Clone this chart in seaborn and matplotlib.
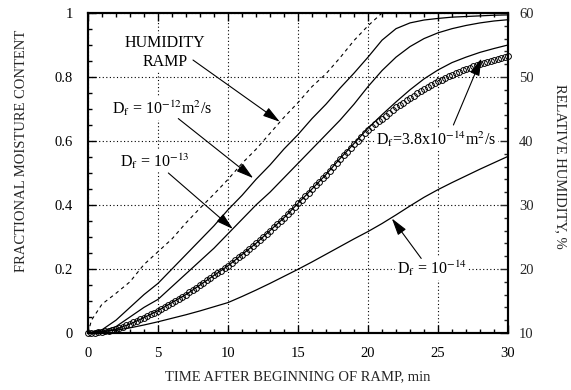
import numpy as np
import pandas as pd
import matplotlib
matplotlib.use("Agg")
import matplotlib.pyplot as plt
import seaborn as sns
from matplotlib.ticker import MultipleLocator, FixedLocator, FuncFormatter

# ---------------- data ----------------
time_min = list(range(0, 31))

# humidity ramp, relative humidity in %
ramp_time = [0, 0.25, 1, 2, 3, 4, 5, 6, 7, 8, 9, 10, 11, 12, 13, 14, 15, 16, 17, 18, 19, 20, 21]
ramp_rh = [10, 12, 14.5, 16.2, 18, 20.7, 22.7, 24.7, 27.2, 29.5, 31.7, 34, 36.5, 38.7,
           41.2, 43.7, 46, 48.5, 50.5, 53, 55.7, 58, 60]

# fractional moisture content, model curves
df_1e12 = [0, 0.01, 0.04, 0.08, 0.12, 0.155, 0.20, 0.245, 0.29, 0.335, 0.385, 0.43, 0.48,
           0.525, 0.575, 0.62, 0.67, 0.715, 0.765, 0.812, 0.862, 0.915, 0.951, 0.969, 0.978,
           0.983, 0.987, 0.989, 0.991, 0.993, 0.994]
df_1e13 = [0, 0.005, 0.02, 0.05, 0.08, 0.105, 0.145, 0.185, 0.225, 0.265, 0.31, 0.355, 0.40,
           0.44, 0.485, 0.53, 0.575, 0.62, 0.665, 0.715, 0.77, 0.82, 0.862, 0.895, 0.92,
           0.938, 0.951, 0.961, 0.969, 0.975, 0.979]
df_38e14 = [0, 0.003, 0.012, 0.028, 0.048, 0.07, 0.095, 0.12, 0.15, 0.18, 0.21, 0.245, 0.28,
            0.32, 0.36, 0.405, 0.45, 0.495, 0.545, 0.592, 0.64, 0.682, 0.722, 0.76, 0.794,
            0.822, 0.845, 0.862, 0.877, 0.889, 0.90]
df_1e14 = [0, 0.004, 0.009, 0.016, 0.025, 0.035, 0.046, 0.057, 0.069, 0.082, 0.095, 0.114,
           0.134, 0.155, 0.177, 0.199, 0.222, 0.246, 0.27, 0.294, 0.317, 0.342, 0.369, 0.397,
           0.424, 0.448, 0.47, 0.491, 0.512, 0.532, 0.552]

# measured data (circles), every 0.25 min
circle_time = [0.25 * i for i in range(121)]
circle_val = [0.000, 0.000, 0.001, 0.002, 0.003, 0.005, 0.007, 0.009, 0.012, 0.016, 0.020,
              0.024, 0.028, 0.033, 0.038, 0.043, 0.048, 0.053, 0.059, 0.064, 0.070, 0.076,
              0.082, 0.089, 0.095, 0.101, 0.107, 0.114, 0.120, 0.127, 0.135, 0.142, 0.150,
              0.157, 0.165, 0.172, 0.180, 0.187, 0.195, 0.202, 0.210, 0.219, 0.227, 0.236,
              0.245, 0.254, 0.262, 0.271, 0.280, 0.290, 0.300, 0.310, 0.320, 0.330, 0.340,
              0.350, 0.360, 0.371, 0.382, 0.394, 0.405, 0.416, 0.427, 0.439, 0.450, 0.461,
              0.472, 0.484, 0.495, 0.507, 0.520, 0.532, 0.545, 0.556, 0.567, 0.579, 0.590,
              0.601, 0.612, 0.624, 0.635, 0.644, 0.653, 0.661, 0.670, 0.679, 0.688, 0.696,
              0.705, 0.713, 0.720, 0.728, 0.735, 0.742, 0.749, 0.755, 0.762, 0.768, 0.775,
              0.781, 0.787, 0.792, 0.797, 0.802, 0.807, 0.812, 0.816, 0.821, 0.825, 0.829,
              0.833, 0.836, 0.840, 0.843, 0.847, 0.850, 0.853, 0.856, 0.860, 0.863, 0.866]

x_ticks = [0, 5, 10, 15, 20, 25, 30]
y_ticks = [0, 0.2, 0.4, 0.6, 0.8, 1.0]
rh_ticks = [10, 20, 30, 40, 50, 60]

# ---------------- style ----------------
sns.set_style("ticks")
plt.rcParams["font.family"] = "serif"
plt.rcParams["font.serif"] = ["Liberation Serif", "DejaVu Serif"]
plt.rcParams["mathtext.fontset"] = "stix"
plt.rcParams["axes.linewidth"] = 1.5

fig = plt.figure(figsize=(5.71, 3.9), dpi=100)
ax = fig.add_axes([0.1541, 0.1462, 0.7356, 0.8205])
ax2 = ax.twinx()
ax2.set_position([0.1541, 0.1462, 0.7356, 0.8205])

models = pd.DataFrame({"t": time_min, "1e12": df_1e12, "1e13": df_1e13,
                       "38e14": df_38e14, "1e14": df_1e14})
for col in ["1e12", "1e13", "38e14", "1e14"]:
    sns.lineplot(data=models, x="t", y=col, ax=ax, color="black", lw=0.9,
                 estimator=None, sort=False)

circles = pd.DataFrame({"t": circle_time, "v": circle_val})
sns.lineplot(data=circles, x="t", y="v", ax=ax, color="black", linestyle="",
             marker="o", markersize=4.2, markerfacecolor="none",
             markeredgecolor="black", markeredgewidth=0.7, clip_on=False,
             estimator=None, sort=False)

ramp = pd.DataFrame({"t": ramp_time, "rh": ramp_rh})
sns.lineplot(data=ramp, x="t", y="rh", ax=ax2, color="black", lw=0.8,
             estimator=None, sort=False)
ax2.lines[0].set_dashes([3.2, 3.2])

# ---------------- axes ----------------
ax.set_xlim(0, 30)
ax.set_ylim(0, 1)
ax2.set_ylim(10, 60)
ax.xaxis.set_major_locator(FixedLocator(x_ticks))
ax.xaxis.set_minor_locator(MultipleLocator(1))
ax.yaxis.set_major_locator(FixedLocator(y_ticks))
ax.yaxis.set_minor_locator(MultipleLocator(0.05))
ax.yaxis.set_major_formatter(FuncFormatter(lambda v, p: "%g" % v))
ax2.yaxis.set_major_locator(FixedLocator(rh_ticks))
ax2.yaxis.set_minor_locator(MultipleLocator(2))

LS = 10.5
ax.tick_params(which="both", direction="in", top=True, right=False, width=1.0,
               labelsize=LS, colors="black")
ax.tick_params(which="major", length=6)
ax.tick_params(which="minor", length=3.2)
ax.tick_params(axis="y", pad=11)
ax.tick_params(axis="x", pad=10)
ax2.tick_params(which="both", direction="in", width=1.0, labelsize=LS, pad=8)
ax2.tick_params(which="major", length=6)
ax2.tick_params(which="minor", length=3.2)

for a in (ax, ax2):
    for s in a.spines.values():
        s.set_visible(True)
        s.set_linewidth(1.5)
        s.set_color("black")

ax.grid(True, which="major", linestyle=(0, (1, 2.2)), color="black", lw=0.8)
ax.set_axisbelow(True)

ax.set_xlabel("TIME AFTER BEGINNING OF RAMP, min", fontsize=LS)
ax.xaxis.set_label_coords(0.5, -0.117)
ax.set_ylabel("FRACTIONAL MOISTURE CONTENT", fontsize=LS)
ax.yaxis.set_label_coords(-0.142, 0.57)
ax2.set_ylabel("RELATIVE HUMIDITY, %", fontsize=LS, rotation=270, va="bottom")
ax2.yaxis.set_label_coords(1.11, 0.52)

# ---------------- annotations ----------------
box = dict(facecolor="white", edgecolor="none", pad=1.0)
txt_kw = dict(fontsize=11.5, color="black", bbox=box, zorder=5)
ax.text(5.5, 0.875, "HUMIDITY\nRAMP", ha="center", va="center", linespacing=1.25, **txt_kw)
ax.text(1.7, 0.684, r"D$_{\rm f}$ = 10$^{-12}$m$^{2}$/s", ha="left", va="baseline", **txt_kw)
ax.text(2.3, 0.52, r"D$_{\rm f}$ = 10$^{-13}$", ha="left", va="baseline", **txt_kw)
ax.text(20.6, 0.588, r"D$_{\rm f}$=3.8x10$^{-14}$m$^{2}$/s", ha="left", va="baseline", **txt_kw)
ax.text(22.05, 0.184, r"D$_{\rm f}$ = 10$^{-14}$", ha="left", va="baseline", **txt_kw)

arrows = [((7.5, 0.853), (13.7, 0.66)),
          ((6.45, 0.67), (11.8, 0.484)),
          ((5.74, 0.50), (10.35, 0.325)),
          ((26.1, 0.65), (28.1, 0.858)),
          ((23.8, 0.233), (21.7, 0.358))]
for start, tip in arrows:
    ax.annotate("", xy=tip, xytext=start, zorder=6,
                arrowprops=dict(arrowstyle="-|>,head_length=0.7,head_width=0.2",
                                mutation_scale=15, color="black", lw=0.8,
                                shrinkA=0, shrinkB=0))

fig.savefig("out.png", dpi=100)
